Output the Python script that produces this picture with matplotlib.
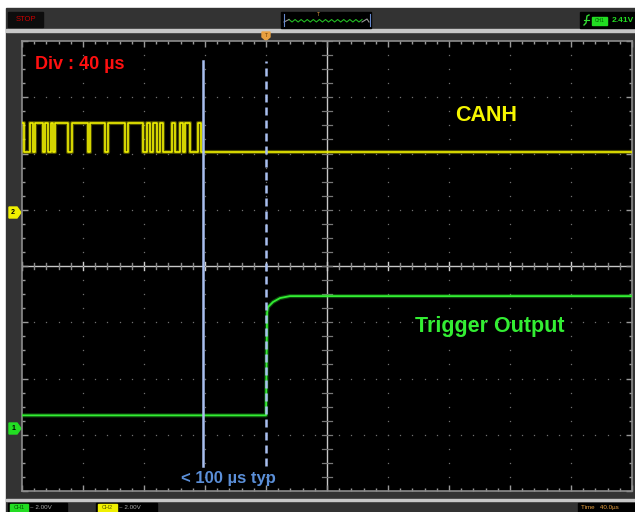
import numpy as np
import matplotlib
matplotlib.use("Agg")
import matplotlib.pyplot as plt
from matplotlib.patches import Rectangle, Polygon
from matplotlib.ticker import MultipleLocator

plt.rcParams['font.family'] = ['Liberation Sans', 'DejaVu Sans']

# scope settings
us_per_div = 40
v_per_div = 2.0
ch2_offset_div = 0.96     # CANH ground marker
ch1_offset_div = -2.88    # trigger output ground marker

# CANH (CH2): start time of each bit segment in us, and the bit level (1 = dominant)
canh_edges_us = [0, 1.3, 5.2, 7.2, 8.5, 13.8, 15.1, 17.0, 19.0, 20.3, 21.6, 30.2,
                 32.8, 43.3, 44.6, 54.4, 56.4, 67.5, 69.5, 79.3, 82.0, 83.9, 85.9,
                 88.5, 90.5, 92.5, 98.4, 100.3, 103.6, 105.6, 106.9, 110.2, 115.4,
                 117.4]
canh_bits = [1, 0, 1, 0, 1, 0, 1, 0, 1, 0, 1, 0, 1, 0, 1, 0, 1,
             0, 1, 0, 1, 0, 1, 0, 1, 0, 1, 0, 1, 0, 1, 0, 1, 0]
canh_dominant_v = 3.17
canh_recessive_v = 2.13

# trigger output (CH1)
trig_t_us = [0, 160.0, 160.7, 161.3, 164.6, 169.2, 175.7, 400]
trig_v = [0.45, 0.45, 4.10, 4.30, 4.48, 4.62, 4.69, 4.69]

cursor_a_us = 118.7
cursor_b_us = 160.0

labels = {
    'div': 'Div : 40 µs',
    'canh': 'CANH',
    'trig': 'Trigger Output',
    'delay': '< 100 µs typ',
}


def draw_frame(bg):
    # instrument window around the screen
    bg.add_patch(Rectangle((6, 8), 629, 504, color='#333333'))
    bg.add_patch(Rectangle((6, 29), 629, 2.5, color='#c8c8c8'))
    bg.add_patch(Rectangle((6, 498.5), 629, 2.5, color='#c8c8c8'))

    # top bar
    bg.add_patch(Rectangle((8, 12), 35, 15, color='#0d0d0d'))
    bg.text(25.5, 19.8, 'STOP', color='#cc0000', fontsize=5.5, ha='center', va='center')

    bg.add_patch(Rectangle((281, 12), 90, 16, color='#000000'))
    zx = np.linspace(289, 362, 25)
    zy = np.where(np.arange(25) % 2 == 0, 19.5, 22.0)
    bg.plot(zx, zy, color='#22bb22', lw=0.8)
    bg.plot([284, 289], [22, 19.5], color='#999999', lw=0.8)
    bg.plot([362, 367, 369], [22, 19, 22], color='#999999', lw=0.8)
    bg.plot([284, 284], [14, 26], color='#6688cc', lw=0.8)
    bg.plot([370, 370], [14, 26], color='#6688cc', lw=0.8)
    bg.text(318, 14.5, 'T', color='#e8a040', fontsize=3.5, ha='center', va='center')

    bg.add_patch(Rectangle((580, 12), 55, 16, color='#000000'))
    bg.plot([584, 586, 587, 589], [25, 23, 16, 15], color='#33dd33', lw=1.0)
    bg.plot([584, 589], [20, 20], color='#33dd33', lw=0.8)
    bg.add_patch(Rectangle((592, 17), 15, 8, color='#22dd22'))
    bg.text(599.5, 21, 'CH1', color='#005500', fontsize=3.5, ha='center', va='center')
    bg.text(612, 21, '2.41V', color='#22dd22', fontsize=6, fontweight='bold',
            ha='left', va='center')

    # trigger position marker
    bg.add_patch(Polygon([(262, 32), (270, 32), (270, 37), (266, 40.5), (262, 37)],
                         closed=True, color='#e8a040'))
    bg.text(266, 35.5, 'T', color='#6a3a00', fontsize=3.5, ha='center', va='center')

    # channel ground markers
    for y0, col, txt in [(212.5, '#f0f000', '2'), (428.5, '#22dd22', '1')]:
        bg.add_patch(Polygon([(9, y0 - 5.5), (17, y0 - 5.5), (21, y0), (17, y0 + 5.5),
                              (9, y0 + 5.5)], closed=True, color=col))
        bg.text(13, y0, txt, color='#000000', fontsize=5, fontweight='bold',
                ha='center', va='center')

    # bottom bar (only its top shows in the window)
    yb = 507.5
    bg.add_patch(Rectangle((8, 503), 59, 9, color='#000000'))
    bg.add_patch(Rectangle((10, 503.5), 18, 8.5, color='#22dd22'))
    bg.text(19, yb, 'CH1', color='#005500', fontsize=4, ha='center', va='center')
    bg.text(30, yb, '~ 2.00V', color='#aaaaaa', fontsize=4.5, ha='left', va='center')
    bg.add_patch(Rectangle((96, 503), 61, 9, color='#000000'))
    bg.add_patch(Rectangle((98, 503.5), 19, 8.5, color='#f0f000'))
    bg.text(107.5, yb, 'CH2', color='#555500', fontsize=4, ha='center', va='center')
    bg.text(119, yb, '~ 2.00V', color='#aaaaaa', fontsize=4.5, ha='left', va='center')
    bg.add_patch(Rectangle((578, 503), 57, 9, color='#000000'))
    bg.text(581, yb, 'Time   40.0µs', color='#e8a040', fontsize=4.5,
            ha='left', va='center')


def draw_grid(ax):
    dot = dict(ls='none', marker='s', ms=0.9, color='#707070', mew=0)
    ys = np.arange(-4, 4.01, 0.25)
    xs = np.arange(0, 400.1, us_per_div / 5)
    for k in range(1, 10):
        if k != 5:
            ax.plot(np.full(len(ys), k * us_per_div), ys, **dot)
    for j in range(-3, 4):
        if j != 0:
            ax.plot(xs, np.full(len(xs), j), **dot)

    # center cross with ticks
    ax.axhline(0, color='#c8c8c8', lw=1.0, zorder=1)
    ax.axvline(200, color='#c8c8c8', lw=1.0, zorder=1)
    for x in xs:
        major = abs(x / us_per_div - round(x / us_per_div)) < 1e-6
        h = 0.07 if major else 0.05
        ax.plot([x, x], [-h, h], color='#d0d0d0' if major else '#888888', lw=1.0, zorder=1)
    for y in ys:
        ax.plot([197, 203], [y, y], color='#777777', lw=0.9, zorder=1)


fig = plt.figure(figsize=(6.35, 5.12), dpi=100)
fig.patch.set_facecolor('white')

bg = fig.add_axes([0, 0, 1, 1])
bg.set_xlim(0, 635)
bg.set_ylim(512, 0)
bg.axis('off')
draw_frame(bg)

ax = fig.add_axes([22 / 635, 21 / 512, 610 / 635, 450 / 512])
ax.set_facecolor('black')
ax.set_xlim(0, 10 * us_per_div)
ax.set_ylim(-4, 4)
for s in ax.spines.values():
    s.set_color('#8c8c8c')
    s.set_linewidth(1.2)
ax.xaxis.set_major_locator(MultipleLocator(us_per_div))
ax.xaxis.set_minor_locator(MultipleLocator(us_per_div / 5))
ax.yaxis.set_major_locator(MultipleLocator(1))
ax.yaxis.set_minor_locator(MultipleLocator(0.25))
ax.tick_params(which='both', direction='in', top=True, right=True,
               labelbottom=False, labelleft=False, color='#9a9a9a', width=1)
ax.tick_params(which='major', length=4)
ax.tick_params(which='minor', length=2.5)

draw_grid(ax)

# CANH trace
canh_t = np.array(canh_edges_us + [400])
canh_lvl = np.where(np.array(canh_bits + [canh_bits[-1]]) == 1,
                    canh_dominant_v, canh_recessive_v) / v_per_div + ch2_offset_div
ax.step(canh_t, canh_lvl, where='post', color='#d8d800', lw=3.0, alpha=0.35, zorder=3)
ax.step(canh_t, canh_lvl, where='post', color='#f0f000', lw=1.2, zorder=4)

# trigger output trace
trig_lvl = np.array(trig_v) / v_per_div + ch1_offset_div
ax.plot(trig_t_us, trig_lvl, color='#22cc22', lw=3.0, alpha=0.35, zorder=3)
ax.plot(trig_t_us, trig_lvl, color='#33ee33', lw=1.3, zorder=4)

# timing cursors
ax.axvline(cursor_a_us, ymin=0.056, ymax=0.956, color='#a9bfef', lw=1.8, zorder=5)
ax.axvline(cursor_b_us, ymin=0.056, ymax=0.956, color='#a9bfef', lw=1.8,
           ls=(0, (3.2, 2)), zorder=5)

ax.text(8.5, 3.59, labels['div'], color='#ff1010', fontsize=13, fontweight='bold',
        ha='left', va='center', zorder=6)
ax.text(304.6, 2.68, labels['canh'], color='#f5f500', fontsize=15.5, fontweight='bold',
        ha='center', va='center', zorder=6)
ax.text(306.9, -1.07, labels['trig'], color='#33ee33', fontsize=15.5, fontweight='bold',
        ha='center', va='center', zorder=6)
ax.text(135.4, -3.77, labels['delay'], color='#5b8fd8', fontsize=12, fontweight='bold',
        ha='center', va='center', zorder=6)

fig.savefig('out.png', dpi=100, facecolor=fig.get_facecolor())
